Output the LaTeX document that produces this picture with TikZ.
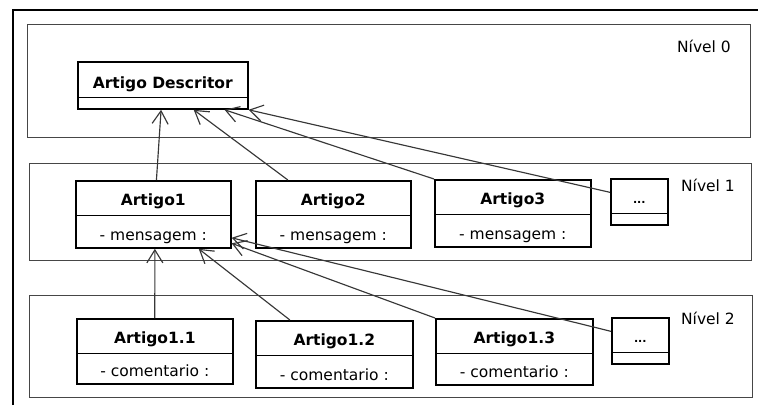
\documentclass[tikz,border=0pt]{standalone}
\usepackage{fontspec}
\setmainfont{DejaVu Sans}
\usetikzlibrary{shapes.multipart,arrows.meta,calc}
\definecolor{frameGray}{RGB}{70,70,70}
\definecolor{linkGray}{RGB}{55,55,55}
\newcommand{\namestrut}{\rule[-9pt]{0pt}{33pt}}
\newcommand{\attrstrut}{\rule[-7pt]{0pt}{31pt}}
\newcommand{\emptystrut}{\rule{0pt}{10pt}}
\tikzset{
    classbox/.style={rectangle split, rectangle split parts=2,
        rectangle split draw splits=false, draw=black, fill=white,
        line width=1.6pt, inner xsep=0pt, inner ysep=0pt,
        anchor=north west, font=\fontsize{15.5}{18}\selectfont},
    divider/.style={line width=1.1pt, black},
    levelbox/.style={draw=frameGray, line width=0.9pt},
    levellabel/.style={anchor=east, inner sep=0pt,
        font=\fontsize{15.5}{18}\selectfont},
    arr/.style={-{Straight Barb[length=13pt,width=16pt]}, line width=1.15pt, linkGray},
}

\begin{document}
\begin{tikzpicture}[x=1pt, y=-1pt]
\useasboundingbox (0,0) rectangle (758,405);

% Outer frame
\draw[line width=2.2pt] (13,405) -- (13,10) -- (758,10);

% Levels
\draw[levelbox] (27,24) rectangle (750,137);
\draw[levelbox] (29,163) rectangle (751,260);
\draw[levelbox] (29,295) rectangle (752,397);
\node[levellabel] (lvl0) at (731,46) {Nível 0};
\node[levellabel] (lvl1) at (735,185) {Nível 1};
\node[levellabel] (lvl2) at (735,318) {Nível 2};

% Level 0
\node[classbox, minimum width=170pt] (desc) at (77,61)
    {\rule[-8.5pt]{0pt}{34pt}\textbf{Artigo Descritor}\nodepart{two}\emptystrut};

% Level 1
\node[classbox, minimum width=155pt] (a1) at (75,180)
    {\namestrut\textbf{Artigo1}\nodepart{two}\attrstrut- mensagem :};
\node[classbox, minimum width=155pt] (a2) at (255,180)
    {\namestrut\textbf{Artigo2}\nodepart{two}\attrstrut- mensagem :};
\node[classbox, minimum width=156pt] (a3) at (434,179)
    {\namestrut\textbf{Artigo3}\nodepart{two}\attrstrut- mensagem :};
\node[classbox, minimum width=57pt] (d1) at (610,178)
    {\namestrut{\fontsize{11}{13}\selectfont\textbf{...}}\nodepart{two}\emptystrut};

% Level 2
\node[classbox, minimum width=156pt] (a11) at (76,318)
    {\namestrut\textbf{Artigo1.1}\nodepart{two}\rule[-7pt]{0pt}{29pt}- comentario :};
\node[classbox, minimum width=157pt] (a12) at (255,320)
    {\namestrut\textbf{Artigo1.2}\nodepart{two}\attrstrut- comentario :};
\node[classbox, minimum width=157pt] (a13) at (435,318)
    {\namestrut\textbf{Artigo1.3}\nodepart{two}\rule[-7pt]{0pt}{30pt}- comentario :};
\node[classbox, minimum width=57pt] (d2) at (611,317)
    {\namestrut{\fontsize{11}{13}\selectfont\textbf{...}}\nodepart{two}\emptystrut};

% Compartment lines
\foreach \c in {desc,a1,a2,a3,d1,a11,a12,a13,d2}
    \draw[divider] (\c.text split west) -- (\c.text split east);

% Links to level 0
\draw[arr] ($(a1.north west)!0.52!(a1.north east)$) -- ($(desc.south west)!0.49!(desc.south east)$);
\draw[arr] ($(a2.north west)!0.21!(a2.north east)$) -- ($(desc.south west)!0.68!(desc.south east)$);
\draw[arr] (a3.north west) -- ($(desc.south west)!0.86!(desc.south east)$);
\draw[arr] ($(d1.north west)!0.3!(d1.south west)$) -- (desc.south east);

% Links to level 1
\draw[arr] (a11.north) -- ($(a1.south west)!0.51!(a1.south east)$);
\draw[arr] ($(a12.north west)!0.22!(a12.north east)$) -- ($(a1.south west)!0.79!(a1.south east)$);
\draw[arr] (a13.north west) -- ($(a1.north east)!0.92!(a1.south east)$);
\draw[arr] ($(d2.north west)!0.3!(d2.south west)$) -- ($(a1.north east)!0.84!(a1.south east)$);

\end{tikzpicture}
\end{document}
